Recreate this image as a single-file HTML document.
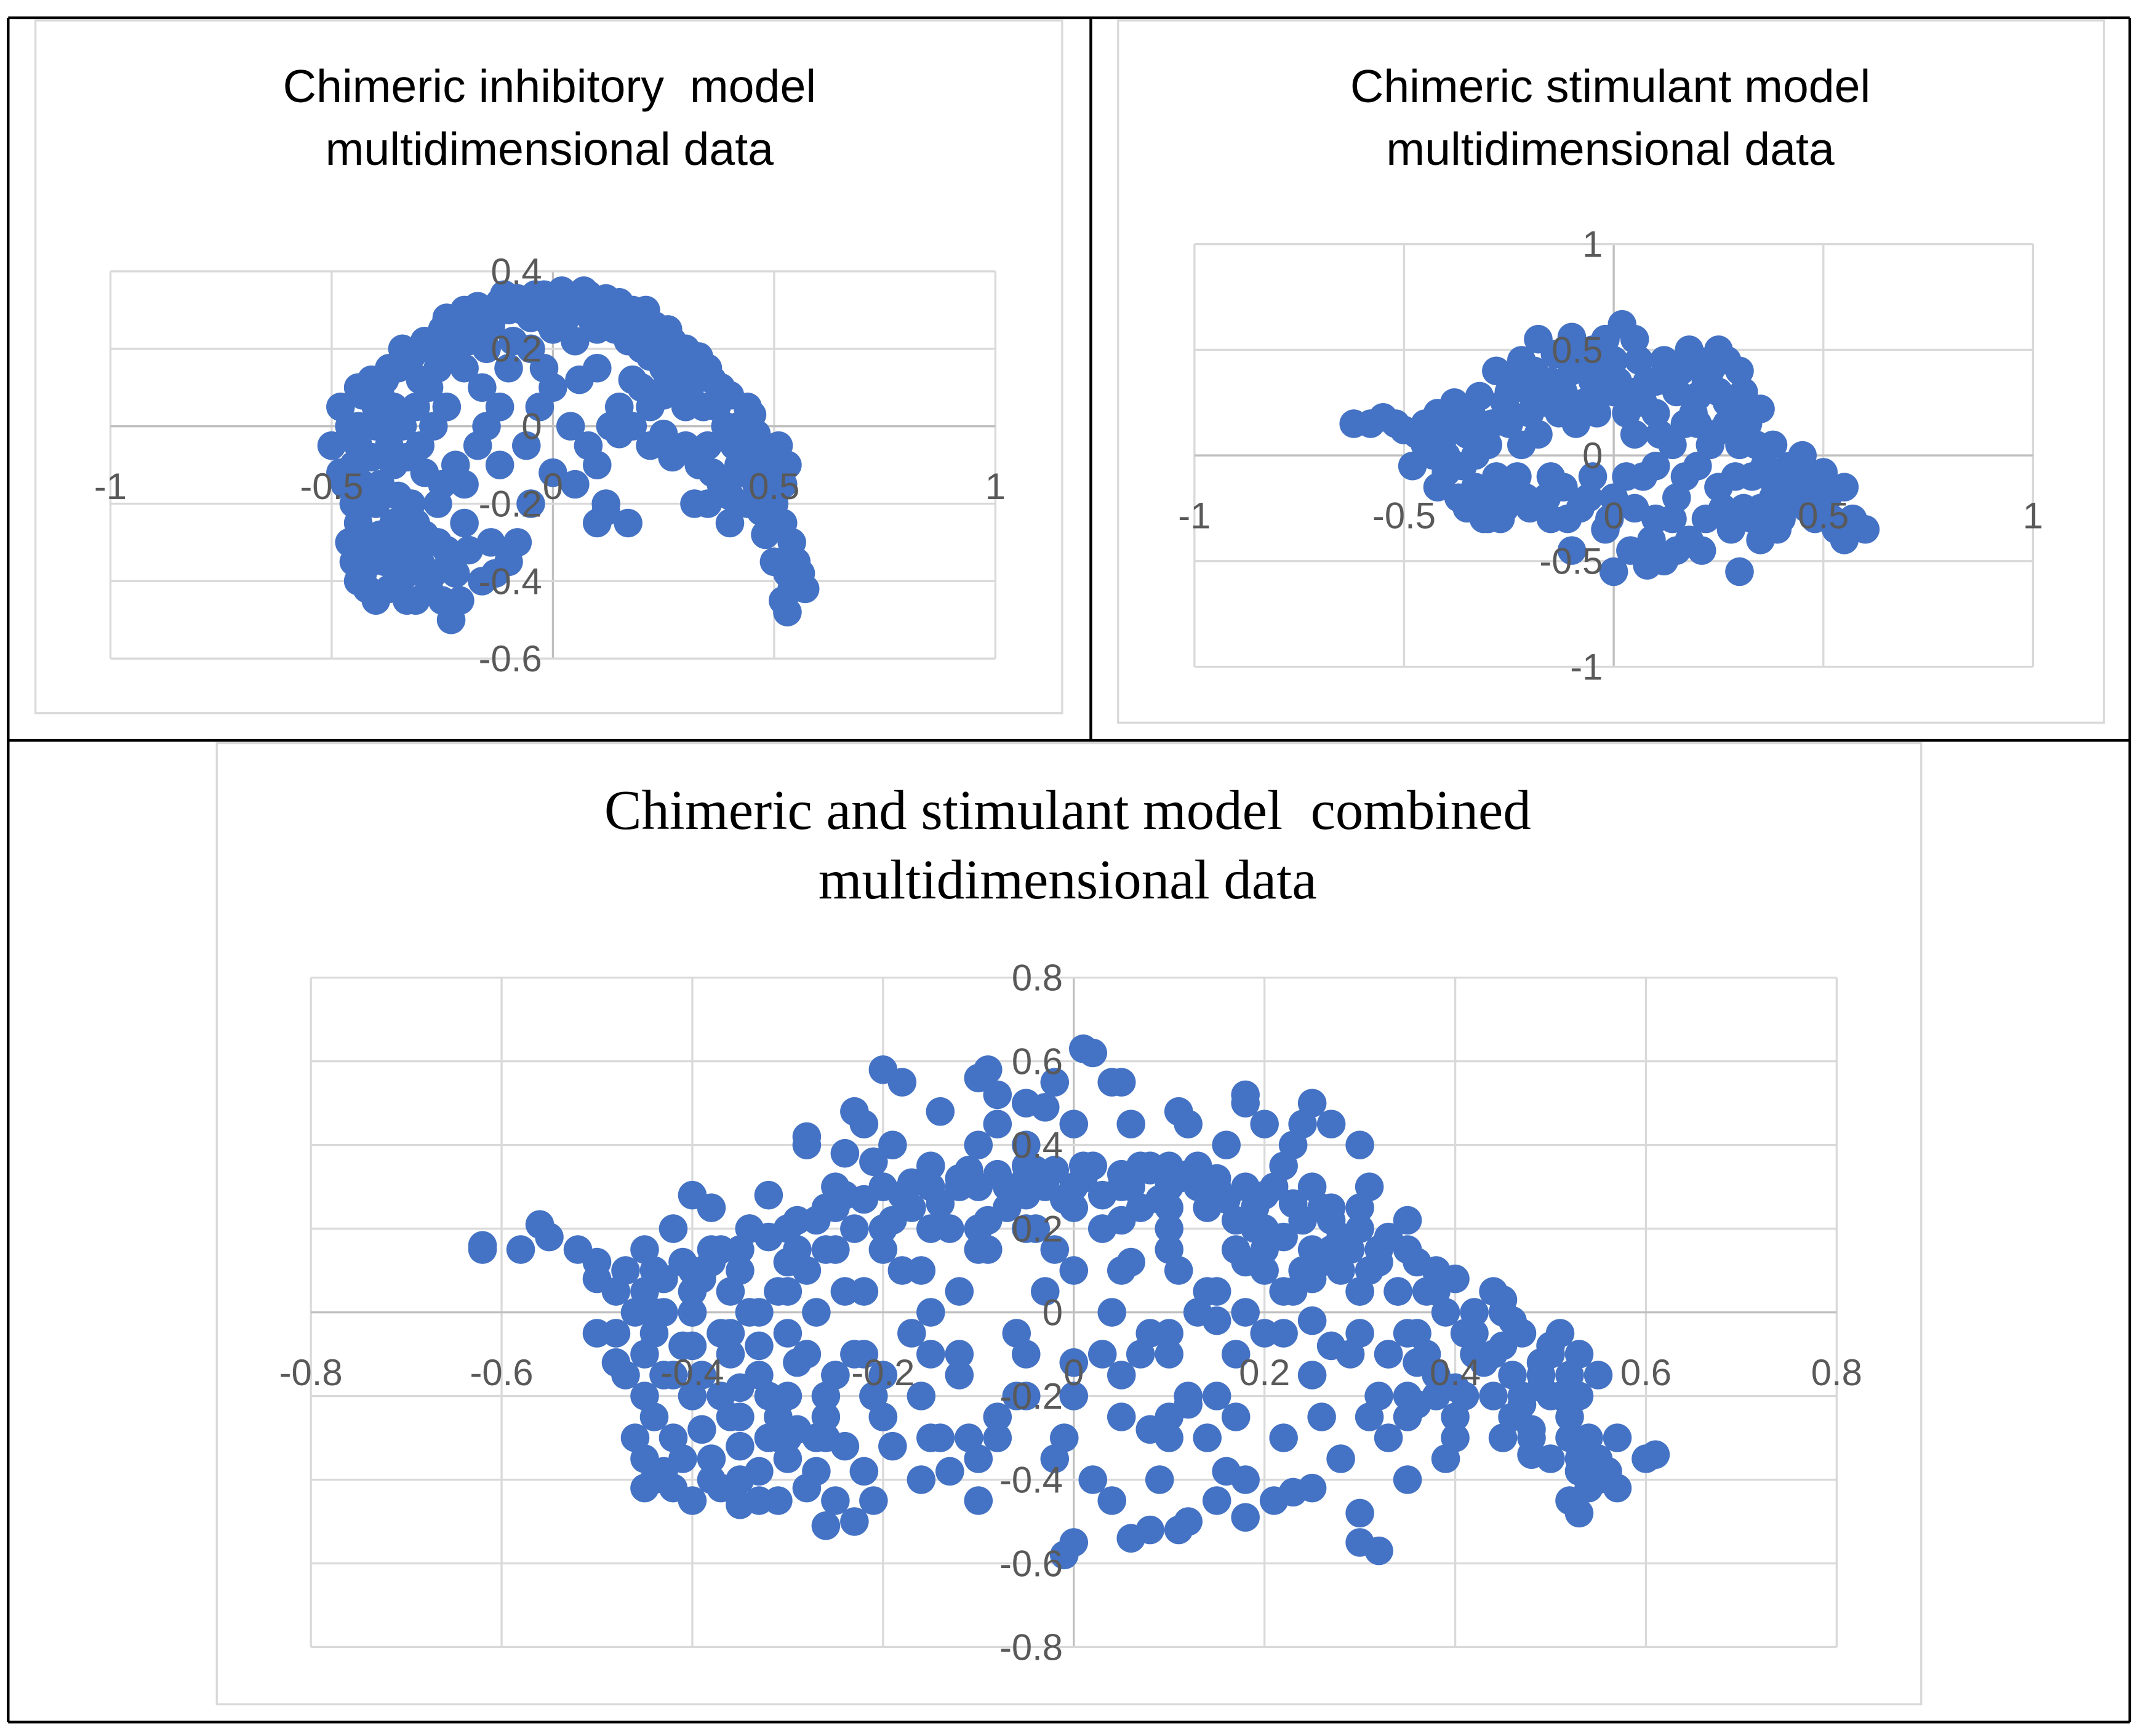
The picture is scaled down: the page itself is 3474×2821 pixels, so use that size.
<!DOCTYPE html>
<html><head><meta charset="utf-8"><style>
html,body{margin:0;padding:0;background:#fff;}
svg{display:block;}
text{font-family:"Liberation Sans",sans-serif;fill:#595959;white-space:pre;}
.serif{font-family:"Liberation Serif",serif;fill:#000;}
</style></head><body>
<svg id="root" width="3474" height="2821" viewBox="0 0 1568 1273.2" xmlns="http://www.w3.org/2000/svg">
<rect x="0" y="0" width="1568" height="1273.2" fill="#fff"/>
<g fill="none" stroke="#000" stroke-width="2">
<line x1="6" y1="13" x2="1562" y2="13"/>
<line x1="6" y1="543" x2="1562" y2="543"/>
<line x1="6" y1="1263" x2="1562" y2="1263"/>
<line x1="6" y1="13" x2="6" y2="1263"/>
<line x1="1562" y1="13" x2="1562" y2="1263"/>
<line x1="800" y1="13" x2="800" y2="543"/>
</g>
<rect x="26" y="15" width="753" height="508" fill="none" stroke="#d9d9d9" stroke-width="1.5"/>
<rect x="820" y="15" width="723" height="515" fill="none" stroke="#d9d9d9" stroke-width="1.5"/>
<rect x="159" y="545" width="1250" height="705" fill="none" stroke="#d9d9d9" stroke-width="1.5"/>
<text x="403" y="75" text-anchor="middle" font-size="34" style="fill:#000" xml:space="preserve">Chimeric inhibitory  model</text>
<text x="403" y="121" text-anchor="middle" font-size="34" style="fill:#000">multidimensional data</text>
<text x="1181" y="75" text-anchor="middle" font-size="34" style="fill:#000">Chimeric stimulant model</text>
<text x="1181" y="121" text-anchor="middle" font-size="34" style="fill:#000">multidimensional data</text>
<text class="serif" x="783" y="608" text-anchor="middle" font-size="41" xml:space="preserve">Chimeric and stimulant model  combined</text>
<text class="serif" x="783" y="659" text-anchor="middle" font-size="41">multidimensional data</text>
<g id="charts"></g>
</svg>
<script>
const inhibitoryPoints=[[-0.5,-0.05],[-0.45,-0.1],[-0.43,0.08],[-0.42,-0.3],[-0.43,-0.38],[-0.42,-0.42],[-0.4,-0.2],[-0.4,0.0],[-0.4,0.05],[-0.38,-0.35],[-0.38,0.12],[-0.36,-0.1],[-0.36,-0.25],[-0.35,0.15],[-0.35,-0.4],[-0.34,0.0],[-0.33,-0.45],[-0.32,0.18],[-0.32,-0.2],[-0.3,0.2],[-0.3,-0.05],[-0.3,-0.35],[-0.28,0.1],[-0.28,-0.42],[-0.27,0.22],[-0.26,-0.3],[-0.25,0.25],[-0.25,-0.15],[-0.25,-0.45],[-0.24,0.05],[-0.23,-0.5],[-0.22,0.27],[-0.22,-0.38],[-0.2,0.15],[-0.2,-0.25],[-0.2,0.3],[-0.18,0.28],[-0.17,-0.05],[-0.16,-0.4],[-0.15,0.3],[-0.15,0.2],[-0.14,-0.3],[-0.12,0.32],[-0.12,-0.1],[-0.1,0.3],[-0.1,0.15],[-0.1,-0.35],[-0.08,0.33],[-0.05,0.32],[-0.05,0.2],[-0.05,-0.2],[-0.03,0.05],[-0.02,0.34],[0,0.3],[0,0.1],[0.02,0.35],[0.04,0.0],[0.05,0.33],[0.05,0.22],[0.08,0.34],[0.08,-0.05],[0.1,0.3],[0.1,0.15],[0.1,-0.1],[0.12,0.33],[0.12,-0.22],[0.13,0.0],[0.14,0.25],[0.15,0.32],[0.15,0.05],[0.17,-0.25],[0.18,0.3],[0.18,0.12],[0.2,0.28],[0.2,0.2],[0.22,0.05],[0.23,0.26],[0.25,0.15],[0.25,-0.02],[0.27,0.22],[0.28,0.1],[0.3,0.2],[0.3,-0.05],[0.32,0.12],[0.33,-0.1],[0.35,0.15],[0.35,-0.2],[0.37,0.05],[0.38,-0.15],[0.4,0.08],[0.4,-0.25],[0.42,0.0],[0.42,-0.1],[0.44,-0.2],[0.45,0.03],[0.46,-0.15],[0.47,-0.05],[0.48,-0.28],[0.5,-0.1],[0.5,-0.2],[0.52,-0.15],[0.5,-0.35],[0.52,-0.25],[0.53,-0.38],[0.55,-0.35],[0.54,-0.42],[0.56,-0.38],[0.52,-0.45],[0.53,-0.48],[0.57,-0.42],[0.25,0.08],[0.3,0.05],[-0.45,-0.2],[-0.47,-0.15],[-0.44,-0.05],[-0.36,0.05],[-0.32,-0.3],[-0.3,0.12],[0.38,0.1],[0.45,-0.08],[0.35,-0.05],[0.05,-0.15],[-0.05,0.28],[0.0,0.25],[0.1,0.25],[0.2,0.1],[-0.08,-0.3],[0.12,-0.2],[0.1,-0.25],
[-0.48,-0.12],[-0.46,-0.3],[-0.46,0.0],[-0.44,-0.25],[-0.44,0.1],[-0.43,-0.15],[-0.41,-0.35],[-0.41,-0.08],[-0.41,0.12],[-0.39,-0.28],[-0.39,-0.15],[-0.39,0.08],[-0.37,-0.42],[-0.37,-0.05],[-0.37,0.15],[-0.35,-0.32],[-0.35,-0.18],[-0.34,0.2],[-0.33,-0.08],[-0.33,-0.38],[-0.31,0.05],[-0.31,-0.25],[-0.31,-0.45],[-0.29,0.22],[-0.29,-0.12],[-0.29,-0.28],[-0.27,0.0],[-0.27,-0.38],[-0.26,0.15],[-0.26,-0.2],[-0.24,0.28],[-0.24,-0.32],[-0.23,0.2],[-0.22,-0.1],[-0.21,-0.45],[-0.19,0.22],[-0.19,-0.32],[-0.17,0.31],[-0.16,0.1],[-0.14,0.26],[-0.13,-0.38],[-0.11,0.34],[-0.09,0.22],[-0.07,0.3],[-0.04,0.34],[-0.01,0.27],[0.01,0.32],[0.03,0.28],[0.06,0.3],[0.07,0.35],[0.09,0.27],[0.11,0.32],[0.13,0.3],[0.16,0.27],[0.17,0.22],[0.19,0.25],[0.21,0.3],[0.22,0.18],[0.24,0.22],[0.26,0.25],[0.26,0.12],[0.28,0.18],[0.29,0.15],[0.31,0.1],[0.33,0.18],[0.34,0.05],[0.36,0.12],[0.36,-0.12],[0.39,0.0],[0.41,-0.05],[0.43,-0.12],[0.44,0.05],[0.46,-0.02],[0.47,-0.22],[0.49,-0.12],[0.51,-0.05],[0.49,-0.18],[0.53,-0.1],[0.54,-0.3],[0.22,-0.05],[0.15,-0.02],[0.18,0.0],[-0.02,0.15],[0.06,0.12],[-0.15,0.0],[-0.12,0.05],[0.4,-0.18],[0.27,-0.08],[0.32,-0.2],[-0.45,-0.35],[-0.44,-0.4],[-0.4,-0.45],[-0.2,-0.15],[-0.06,-0.05],[0.0,-0.12],[-0.48,0.05],[-0.44,0.0]];
const stimulantPoints=[[-0.62,0.15],[-0.55,0.18],[-0.5,0.12],[-0.45,0.15],[-0.48,-0.05],[-0.45,0.05],[-0.42,0.2],[-0.4,-0.08],[-0.4,0.1],[-0.38,0.25],[-0.36,-0.05],[-0.35,0.1],[-0.35,-0.25],[-0.32,0.28],[-0.3,0.05],[-0.3,-0.2],[-0.28,0.4],[-0.27,-0.3],[-0.25,0.15],[-0.25,0.3],[-0.23,-0.1],[-0.22,0.45],[-0.2,0.3],[-0.2,-0.25],[-0.18,0.55],[-0.18,0.1],[-0.15,-0.3],[-0.15,0.35],[-0.13,0.2],[-0.12,-0.15],[-0.1,0.56],[-0.1,0.4],[-0.08,-0.25],[-0.07,0.25],[-0.05,0.5],[-0.05,-0.1],[-0.03,0.3],[-0.02,-0.35],[0,0.45],[0,-0.2],[0.02,0.62],[0.03,0.2],[0.04,-0.45],[0.05,0.55],[0.05,0.1],[0.07,-0.1],[0.08,0.35],[0.1,-0.3],[0.1,0.2],[0.12,0.45],[0.12,-0.5],[0.14,0.05],[0.15,0.3],[0.15,-0.2],[0.17,0.15],[0.18,-0.4],[0.2,0.28],[0.2,-0.05],[0.22,0.35],[0.22,-0.3],[0.24,0.1],[0.25,0.5],[0.25,-0.15],[0.27,0.25],[0.28,-0.35],[0.3,0.05],[0.3,0.4],[0.31,-0.25],[0.32,0.15],[0.33,-0.1],[0.35,0.22],[0.35,-0.4],[0.36,-0.05],[0.38,0.05],[0.38,-0.2],[0.4,-0.3],[0.42,-0.1],[0.45,0.0],[0.47,-0.2],[0.5,-0.08],[0.52,-0.3],[0.55,-0.15],[0.55,-0.4],[0.6,-0.35],[0.48,-0.3],[0.3,-0.55],[0.0,-0.55],[0.08,-0.52],[-0.1,-0.45],[-0.3,-0.3],[-0.33,-0.15],[0.15,-0.45],[0.2,0.45],[0.1,0.35],[-0.05,0.4],[0.0,0.3],[0.25,0.3],[0.3,0.25],[0.2,0.15],[0.1,-0.05],[-0.25,-0.15],[-0.15,-0.1],[0.05,-0.25],[0.35,-0.25],[0.42,-0.05],[-0.4,0.0],
[-0.58,0.15],[-0.52,0.15],[-0.47,0.1],[-0.43,0.0],[-0.42,-0.15],[-0.38,0.15],[-0.37,-0.2],[-0.34,0.2],[-0.33,0.0],[-0.31,-0.3],[-0.29,0.15],[-0.28,-0.1],[-0.26,0.25],[-0.26,-0.25],[-0.24,0.38],[-0.22,0.05],[-0.21,-0.2],[-0.19,0.4],[-0.17,0.25],[-0.16,-0.2],[-0.14,0.48],[-0.12,0.3],[-0.11,-0.3],[-0.09,0.15],[-0.08,0.45],[-0.06,-0.2],[-0.04,0.2],[-0.02,0.55],[-0.01,-0.3],[0.01,0.35],[0.03,-0.1],[0.06,0.45],[0.07,0.25],[0.09,-0.4],[0.11,0.1],[0.13,0.35],[0.14,-0.3],[0.16,0.4],[0.17,-0.1],[0.19,0.2],[0.21,-0.45],[0.23,0.05],[0.23,0.4],[0.26,-0.25],[0.27,0.15],[0.29,-0.1],[0.31,0.3],[0.33,-0.3],[0.34,0.05],[0.37,-0.1],[0.39,-0.35],[0.41,-0.2],[0.44,-0.1],[0.46,-0.25],[0.49,-0.15],[0.51,-0.2],[0.53,-0.35],[0.57,-0.3],[0.27,0.45],[0.18,0.5],[-0.05,0.35],[0.05,0.3],[-0.2,0.2],[-0.1,0.2]];
const combinedExtraPoints=[[-0.62,0.16],[-0.56,0.21],[0.61,-0.34],[0.01,0.63],[0.04,0.55],[0.18,0.52],[-0.2,0.58],[-0.09,0.58],[0.32,-0.57],[-0.01,-0.58],[-0.23,0.48],[-0.28,0.42],[0.06,-0.54],[0.11,-0.52],[0.3,-0.48],[-0.26,-0.51],[-0.08,0.52],[-0.03,0.49],[0.11,0.48],[0.24,0.45],[-0.21,0.36],[-0.4,0.28],[-0.5,0.08],[-0.45,-0.42],[-0.38,-0.4],[-0.35,-0.46],[0.16,-0.38],[0.18,-0.49],[0.23,-0.43],[0.25,-0.42],[0.08,-0.28],[0.02,-0.4],[0.36,-0.22],[0.45,-0.3],[0.48,-0.34],[0.53,-0.2]];
const inhibitoryXTicks=["-1","-0.5","0","0.5","1"];
const inhibitoryYTicks=["0.4","0.2","0","-0.2","-0.4","-0.6"];
const stimulantXTicks=["-1","-0.5","0","0.5","1"];
const stimulantYTicks=["1","0.5","0","-0.5","-1"];
const combinedXTicks=["-0.8","-0.6","-0.4","-0.2","0","0.2","0.4","0.6","0.8"];
const combinedYTicks=["0.8","0.6","0.4","0.2","0","-0.2","-0.4","-0.6","-0.8"];
const combinedPoints=inhibitoryPoints.concat(stimulantPoints,combinedExtraPoints);

const NS="http://www.w3.org/2000/svg";
const root=document.getElementById('charts');
function mk(tag,attrs,parent){const e=document.createElementNS(NS,tag);for(const k in attrs)e.setAttribute(k,attrs[k]);parent.appendChild(e);return e;}

function drawChart(name,box,xd,yd,xTicks,yTicks,pts,r,fs){
  const g=mk('g',{},root);
  
  
  const sx=v=>box.x0+(v-xd[0])/(xd[1]-xd[0])*(box.x1-box.x0);
  const sy=v=>box.y1-(v-yd[0])/(yd[1]-yd[0])*(box.y1-box.y0);
  xTicks.forEach(t=>{const v=parseFloat(t);
    const l=mk('line',{x1:sx(v),x2:sx(v),y1:box.y0,y2:box.y1,stroke:v===0?'#bfbfbf':'#d9d9d9','stroke-width':1.5},g);
    
    
  });
  yTicks.forEach(t=>{const v=parseFloat(t);
    const l=mk('line',{x1:box.x0,x2:box.x1,y1:sy(v),y2:sy(v),stroke:v===0?'#bfbfbf':'#d9d9d9','stroke-width':1.5},g);
    
    
  });
  const pg=mk('g',{fill:'#4472C4'},g);
  
  
  pts.forEach(p=>{
    const c=mk('circle',{cx:sx(p[0]),cy:sy(p[1]),r:r},pg);
    
    
  });
  xTicks.forEach(t=>{const v=parseFloat(t);
    const tx=mk('text',{x:sx(v),y:sy(0)+44+fs*0.35,'text-anchor':'middle','font-size':fs},g);
    tx.textContent=t;
    
    
  });
  yTicks.forEach(t=>{const v=parseFloat(t);
    const tx=mk('text',{x:sx(0)-8,y:sy(v)+fs*0.35,'text-anchor':'end','font-size':fs},g);
    tx.textContent=t;
    
    
  });
}
drawChart('inhibitory',{x0:81,x1:730,y0:199,y1:483},[-1,1],[-0.6,0.4],inhibitoryXTicks,inhibitoryYTicks,inhibitoryPoints,10.5,27);
drawChart('stimulant',{x0:876,x1:1491,y0:179,y1:489},[-1,1],[-1,1],stimulantXTicks,stimulantYTicks,stimulantPoints,10.5,27);
drawChart('combined',{x0:228,x1:1347,y0:717,y1:1208},[-0.8,0.8],[-0.8,0.8],combinedXTicks,combinedYTicks,combinedPoints,10.5,27);
</script>
</body></html>
